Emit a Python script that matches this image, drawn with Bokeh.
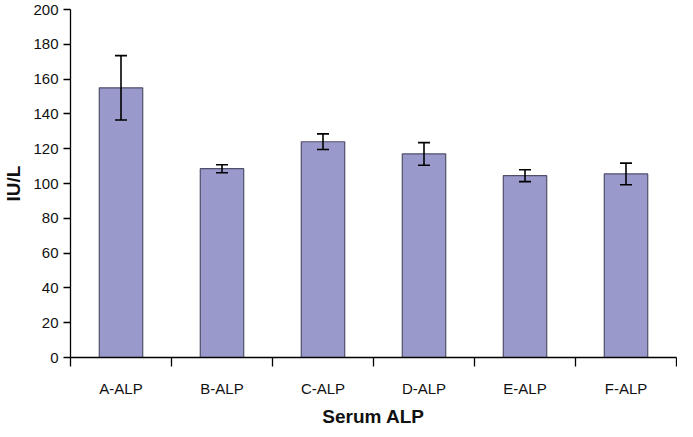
from bokeh.plotting import figure
from bokeh.models import ColumnDataSource, Whisker, TeeHead, FixedTicker, Range1d
from bokeh.embed import file_html
from bokeh.resources import INLINE

categories = ["A-ALP", "B-ALP", "C-ALP", "D-ALP", "E-ALP", "F-ALP"]
means = [155.0, 108.5, 124.0, 117.0, 104.5, 105.5]
errors = [18.5, 2.3, 4.5, 6.5, 3.4, 6.2]
y_ticks = [0, 20, 40, 60, 80, 100, 120, 140, 160, 180, 200]

xs = [i + 0.5 for i in range(len(categories))]
src = ColumnDataSource(dict(
    x=xs, top=means,
    lower=[m - e for m, e in zip(means, errors)],
    upper=[m + e for m, e in zip(means, errors)],
))

p = figure(width=677, height=429, output_backend="svg", toolbar_location=None,
           x_range=Range1d(0, len(categories)), y_range=Range1d(0, 200),
           min_border_left=0, min_border_right=1, min_border_top=9, min_border_bottom=0)
p.outline_line_color = None
p.xgrid.visible = False
p.ygrid.visible = False

p.vbar(x="x", top="top", width=0.43, source=src, fill_color="#9999CC",
       line_color="#4F4F6A", line_width=1.2)

w = Whisker(base="x", lower="lower", upper="upper", source=src,
            line_color="black", line_width=1.6, level="overlay")
w.upper_head = TeeHead(size=12, line_color="black", line_width=1.6)
w.lower_head = TeeHead(size=12, line_color="black", line_width=1.6)
p.add_layout(w)

font = "Liberation Sans"
xa = p.xaxis[0]
xa.ticker = FixedTicker(ticks=xs, minor_ticks=list(range(len(categories) + 1)))
xa.major_label_overrides = {x: c for x, c in zip(xs, categories)}
xa.major_tick_out = 0
xa.major_tick_in = 0
xa.minor_tick_out = 9
xa.minor_tick_in = 0
xa.minor_tick_line_color = "black"
xa.minor_tick_line_width = 1.3
xa.major_label_standoff = 13
xa.axis_label = "Serum ALP"
xa.axis_label_standoff = 6

ya = p.yaxis[0]
ya.ticker = FixedTicker(ticks=y_ticks, minor_ticks=[])
ya.major_tick_out = 7
ya.major_tick_in = 0
ya.major_label_standoff = 5
ya.axis_label = "IU/L"
ya.axis_label_standoff = 6

for ax in (xa, ya):
    ax.axis_line_color = "black"
    ax.axis_line_width = 1.3
    ax.major_tick_line_color = "black"
    ax.major_tick_line_width = 1.3
    ax.major_label_text_font = font
    ax.major_label_text_font_size = "15px"
    ax.major_label_text_color = "#111111"
    ax.axis_label_text_font = font
    ax.axis_label_text_font_size = "19px"
    ax.axis_label_text_font_style = "bold"
    ax.axis_label_text_color = "#111111"

open("out.html", "w").write(file_html(p, INLINE))
